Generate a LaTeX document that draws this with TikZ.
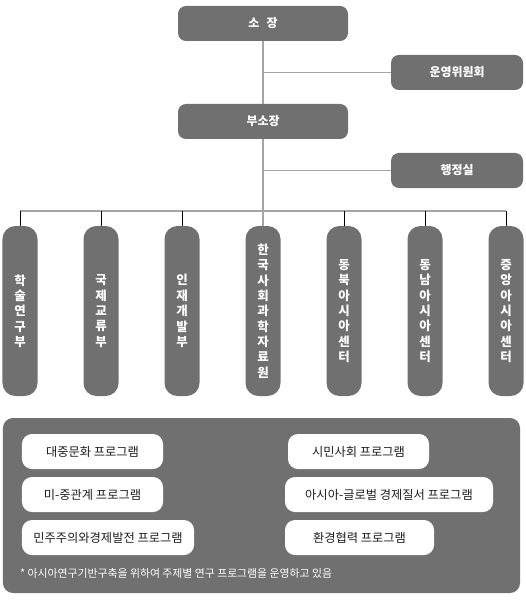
\documentclass[tikz,border=0pt]{standalone}
\usepackage{fontspec}
\setmainfont{Noto Sans CJK KR}
\usetikzlibrary{positioning}
\definecolor{orgGray}{RGB}{112,112,112}
\definecolor{lineGray}{RGB}{165,165,165}
\definecolor{textDark}{RGB}{30,30,30}
\tikzset{
  headbox/.style={rounded corners=8pt, fill=orgGray, text=white, align=center,
                  minimum height=35bp, inner sep=2pt, font=\fontsize{12}{14}\selectfont\bfseries},
  colbox/.style={rounded corners=13pt, fill=orgGray, text=white, align=center,
                 minimum width=35bp, minimum height=170bp, inner sep=1pt,
                 font=\fontsize{12.5}{15.4}\selectfont\bfseries},
  progbox/.style={rounded corners=10pt, fill=white, text=textDark, align=center,
                  minimum height=35bp, inner sep=2pt, font=\fontsize{12.3}{14}\selectfont},
  panel/.style={rounded corners=10pt, fill=orgGray, minimum width=517bp, minimum height=175bp},
  trunk/.style={draw=lineGray, line width=1.3bp},
  drop/.style={draw=black, line width=1bp}
}
\begin{document}
\begin{tikzpicture}[x=1bp, y=-1bp]
\useasboundingbox (0,0) rectangle (526,600);
% top of the chart
\node[headbox, minimum width=170bp] (sojang) at (263,23.5) {소\hspace{0.6em}장};
\node[headbox, minimum width=132bp] (unyoung) at (457,72.5) {운영위원회};
\node[headbox, minimum width=170bp] (busojang) at (263,121.5) {부소장};
\node[headbox, minimum width=132bp] (haengjeong) at (457,170.5) {행정실};
% departments
\node[colbox] (col1) at (20,311) {학\\술\\연\\구\\부};
\node[colbox] (col2) at (101,311) {국\\제\\교\\류\\부};
\node[colbox] (col3) at (182,311) {인\\재\\개\\발\\부};
\node[colbox] (col4) at (263,311) {한\\국\\사\\회\\과\\학\\자\\료\\원};
\node[colbox] (col5) at (344,311) {동\\북\\아\\시\\아\\센\\터};
\node[colbox] (col6) at (425,311) {동\\남\\아\\시\\아\\센\\터};
\node[colbox] (col7) at (506,311) {중\\앙\\아\\시\\아\\센\\터};
\coordinate (bus) at (263,211);
% connectors
\draw[trunk] (sojang.south) -- (busojang.north);
\draw[trunk] (sojang.south |- unyoung.west) -- (unyoung.west);
\draw[trunk] (busojang.south) -- (col4.north);
\draw[trunk] (busojang.south |- haengjeong.west) -- (haengjeong.west);
\draw[trunk] (col1.north |- bus) -- (col7.north |- bus);
\foreach \c in {col1,col2,col3,col5,col6,col7}
  \draw[drop] (\c.north |- bus) -- (\c.north);
% research programs
\node[panel] (programs) at (261.5,505.5) {};
\node[progbox, minimum width=141bp] (popculture) at (92.5,451.5) {대중문화 프로그램};
\node[progbox, minimum width=141bp] (uschina) at (92.5,494.5) {미-중관계 프로그램};
\node[progbox, minimum width=172bp] (democracy) at (108,537.5) {민주주의와경제발전 프로그램};
\node[progbox, minimum width=141bp] (civil) at (358.5,451.5) {시민사회 프로그램};
\node[progbox, minimum width=208bp] (global) at (389,494.5) {아시아-글로벌 경제질서 프로그램};
\node[progbox, minimum width=149bp] (environment) at (359.5,537.5) {환경협력 프로그램};
\node[anchor=west, text=white, inner sep=0pt, font=\fontsize{10.9}{12}\selectfont] (note) at (20,573)
  {* 아시아연구기반구축을 위하여 주제별 연구 프로그램을 운영하고 있음};
\end{tikzpicture}
\end{document}
